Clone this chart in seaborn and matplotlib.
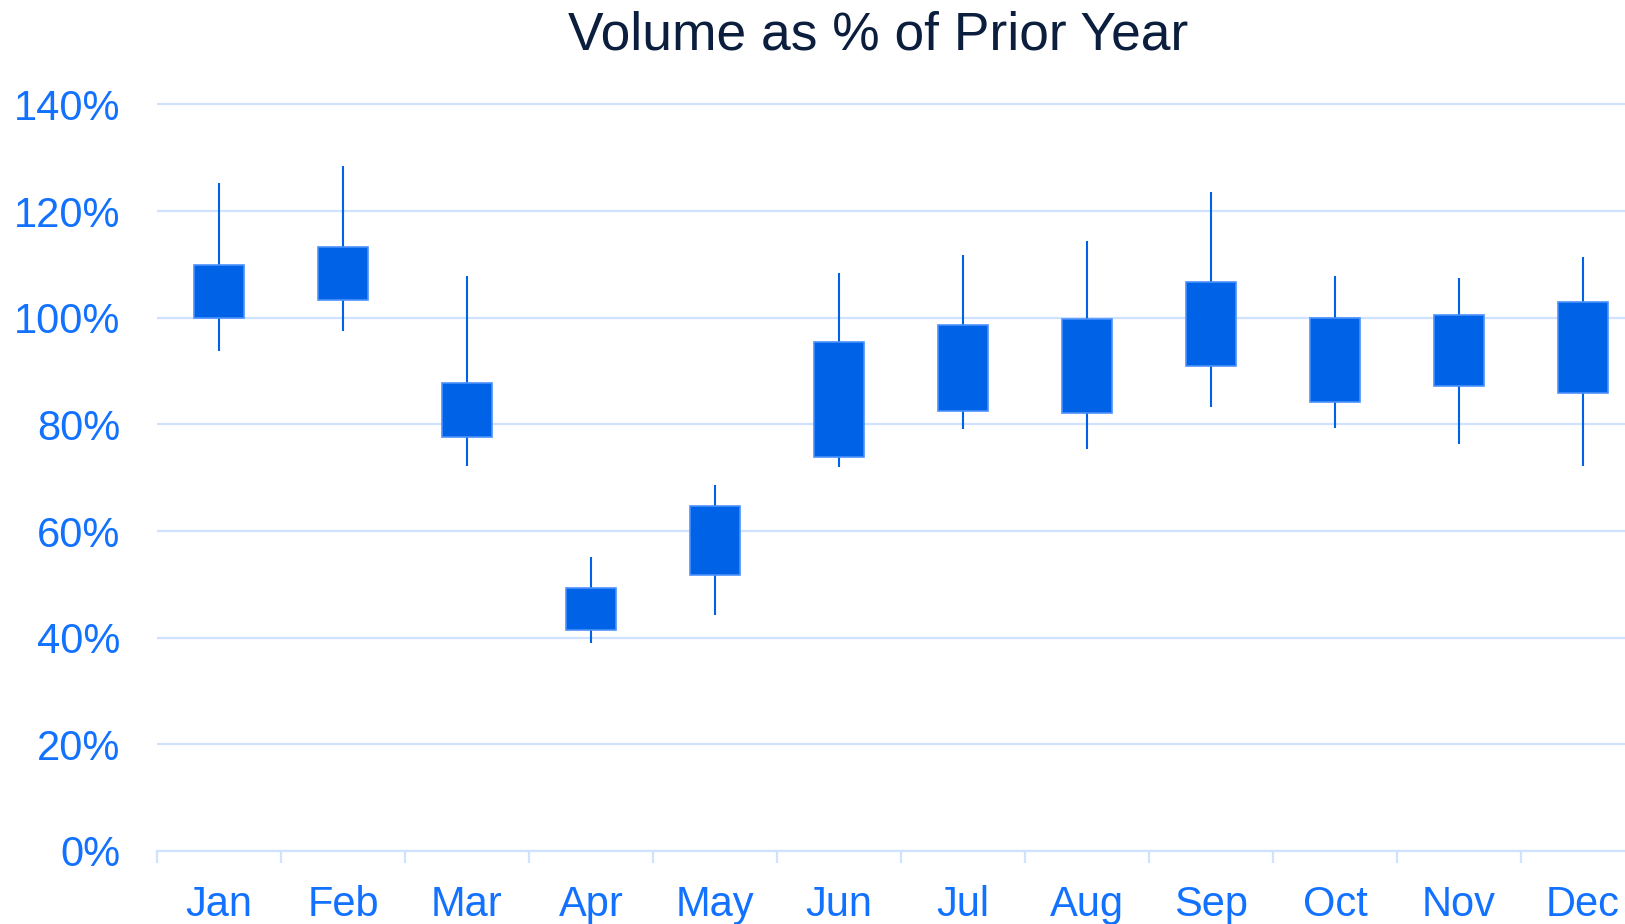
import numpy as np
import pandas as pd
import matplotlib
matplotlib.use("Agg")
import matplotlib.pyplot as plt
import seaborn as sns

# ---- data (values in % of prior year) ----
months = ["Jan", "Feb", "Mar", "Apr", "May", "Jun",
          "Jul", "Aug", "Sep", "Oct", "Nov", "Dec"]
wick_high = [125.2, 128.5, 107.9, 55.1, 68.7, 108.3, 111.7, 114.4, 123.5, 107.8, 107.5, 111.4]
body_high = [109.9, 113.2, 87.7, 49.3, 64.7, 95.5, 98.6, 99.8, 106.6, 100.0, 100.5, 103.0]
body_low = [100.0, 103.4, 77.7, 41.4, 51.7, 73.8, 82.5, 82.1, 90.9, 84.2, 87.1, 85.9]
wick_low = [93.8, 97.5, 72.1, 39.0, 44.3, 72.0, 79.2, 75.3, 83.3, 79.4, 76.3, 72.1]
y_ticks = [0, 20, 40, 60, 80, 100, 120, 140]
y_tick_labels = ["0%", "20%", "40%", "60%", "80%", "100%", "120%", "140%"]
title = "Volume as % of Prior Year"

# ---- style ----
BODY = "#0062E6"
EDGE = "#4A92FF"
GRID = "#CFE2FF"
TICK = "#1272FF"
TITLE = "#0B1E3D"

sns.set_theme(style="white")
plt.rcParams["font.family"] = ["Liberation Sans", "DejaVu Sans"]

W, H = 1625, 924
fig = plt.figure(figsize=(W / 100, H / 100), dpi=100)
ax_left, ax_bottom_px, ax_top_px = 157, 851, 101.7
ax = fig.add_axes([ax_left / W, (H - ax_bottom_px) / H,
                   (W - ax_left) / W, (ax_bottom_px - ax_top_px) / H])

df = pd.DataFrame({
    "month": months,
    "body": np.array(body_high) - np.array(body_low),
    "base": body_low,
    "lo": wick_low,
    "hi": wick_high,
})

# wicks
ax.vlines(np.arange(len(months)), df["lo"], df["hi"], color=BODY,
          linewidth=1.5, zorder=2)
# bodies
sns.barplot(data=df, x="month", y="body", bottom=df["base"], width=0.41,
            color=BODY, saturation=1, edgecolor=EDGE, linewidth=1.2,
            errorbar=None, ax=ax, zorder=3)

ax.set_yticks(y_ticks)
ax.set_yticklabels(y_tick_labels)
ax.set_xlabel("")
ax.set_ylabel("")

ax.yaxis.grid(True, color=GRID, linewidth=1.6)
ax.xaxis.grid(False)
ax.set_axisbelow(True)
for s in ["left", "top", "right"]:
    ax.spines[s].set_visible(False)
ax.spines["bottom"].set_color(GRID)
ax.spines["bottom"].set_linewidth(1.6)

ax.set_xticks(np.arange(-0.5, len(months) + 0.5, 1), minor=True)
ax.tick_params(axis="x", which="major", length=0, pad=24.5, labelsize=30,
               labelcolor=TICK)
ax.tick_params(axis="x", which="minor", length=8.6, width=1.6, color=GRID,
               bottom=True)
ax.tick_params(axis="y", which="major", length=0, pad=26.5, labelsize=30,
               labelcolor=TICK)

# set limits last (tick setting may expand view limits)
ax.set_xlim(-0.5, -0.5 + (W - ax_left) / 124)
ax.set_ylim(0, 140.5)

fig.text(878 / W, 1 - 49.7 / H, title, ha="center", va="baseline",
         fontsize=38.4, color=TITLE)

fig.savefig("out.png", dpi=100)
